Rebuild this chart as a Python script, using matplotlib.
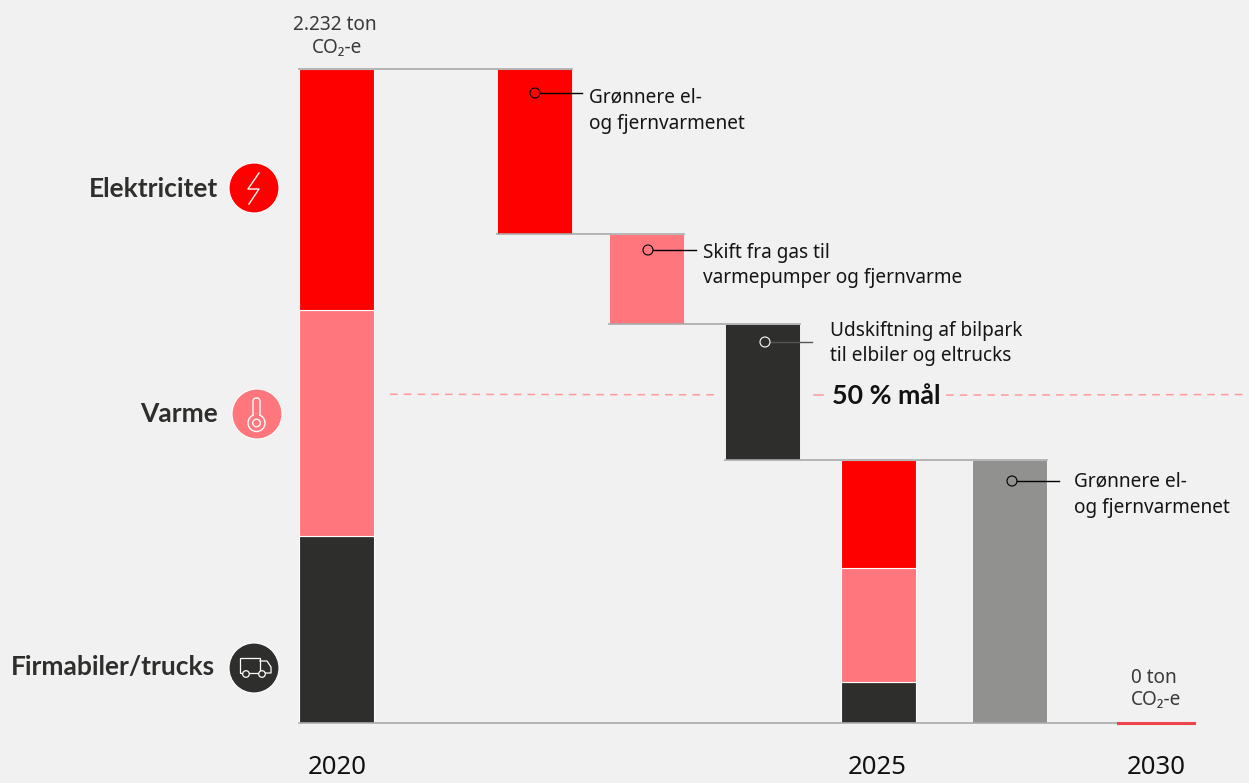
import matplotlib
matplotlib.use("Agg")
import matplotlib.pyplot as plt
from matplotlib.patches import Circle, Rectangle, FancyBboxPatch

plt.rcParams['font.family'] = ['Noto Sans', 'DejaVu Sans']
BOLD = ['Lato', 'DejaVu Sans']

RED = "#ff0000"
PINK = "#ff767c"
DARK = "#2e2e2c"
GREY = "#91918f"
BG = "#f1f1f1"
LINE = "#a9a9a9"

# tons CO2-e
total_2020 = 2232
stack_2020 = [639, 771, 822]
stack_colors = [DARK, PINK, RED]
steps = [563, 307, 464]
step_colors = [RED, PINK, DARK]
stack_2025 = [140, 390, 368]
rest_2030 = 898
goal = 1120

x_2020 = 337
x_steps = [535, 647, 763]
x_2025 = 879
x_rest = 1010
x_2030 = 1156
bar_w = 75

years = ["2020", "2025", "2030"]
year_x = [337, 877, 1156]

fig = plt.figure(figsize=(12.49, 7.83), dpi=100, facecolor=BG)

# data axes: x in pixels, y in tons
px_per_ton = 654 / total_2020
ax = fig.add_axes([0, 0, 1, 1])
ax.set_xlim(0, 1249)
ax.set_ylim(-(783 - 723) / px_per_ton, 723 / px_per_ton)
ax.axis("off")

# overlay axes in pixel coords for labels and icons
ov = fig.add_axes([0, 0, 1, 1])
ov.set_xlim(0, 1249)
ov.set_ylim(783, 0)
ov.axis("off")
ov.patch.set_alpha(0)

# connectors
level = total_2020
ax.plot([x_2020 - bar_w / 2, x_steps[0] + bar_w / 2], [level, level], color=LINE, lw=1.2, zorder=3)
lefts = [x_steps[0] - bar_w / 2, x_steps[1] - bar_w / 2, x_steps[2] - bar_w / 2]
rights = [x_steps[1] + bar_w / 2, x_steps[2] + bar_w / 2, x_rest + bar_w / 2]
for i in range(3):
    level -= steps[i]
    ax.plot([lefts[i], rights[i]], [level, level], color=LINE, lw=1.2, zorder=3)
ax.plot([x_2020 - bar_w / 2, x_2030 - bar_w / 2], [0, 0], color=LINE, lw=1.2, zorder=3)

# 2020 stack
bottom = 0
for v, c in zip(stack_2020, stack_colors):
    ax.bar(x_2020, v, bar_w, bottom=bottom, color=c, edgecolor="white", lw=0.8, zorder=2)
    bottom += v

# waterfall steps
level = total_2020
for x, v, c in zip(x_steps, steps, step_colors):
    ax.bar(x, v, bar_w, bottom=level - v, color=c, edgecolor="white", lw=0.6, zorder=2)
    level -= v

# 2025 stack
bottom = 0
for v, c in zip(stack_2025, stack_colors):
    ax.bar(x_2025, v, bar_w, bottom=bottom, color=c, edgecolor="white", lw=0.8, zorder=2)
    bottom += v

# remaining
ax.bar(x_rest, rest_2030, bar_w, color=GREY, edgecolor="white", lw=0.6, zorder=2)

# 2030
ax.plot([x_2030 - 38, x_2030 + 38], [0, 0], color="#f0444c", lw=2.2, zorder=4)

# 50 % goal
ax.plot([390, 718], [goal + 2, goal], color="#ff9a9e", lw=1.1, dashes=(5, 4), zorder=1)
ax.plot([814, 823], [goal, goal], color="#ff9a9e", lw=1.1, zorder=1)
ax.plot([946, 1245], [goal - 1, goal + 1], color="#ff9a9e", lw=1.1, dashes=(5, 4), zorder=1)
ov.text(832, 396, "50 % mål", fontsize=19.3, fontweight="bold", family=BOLD, color="#111111", va="center")

# callouts
callouts = [
    (535, 93, 582, "black", "Grønnere el-\nog fjernvarmenet", 589, 98),
    (648, 250, 696, "black", "Skift fra gas til\nvarmepumper og fjernvarme", 703, 253),
    (765, 342, 812, "#555555", "Udskiftning af bilpark\ntil elbiler og eltrucks", 830, 331),
    (1012, 481, 1059, "black", "Grønnere el-\nog fjernvarmenet", 1074, 482),
]
for cx, cy, ex, col, txt, tx, ty in callouts:
    ov.plot([cx + 5, ex], [cy, cy], color=col, lw=1.0, zorder=5)
    edge = "white" if col != "black" else "black"
    ov.add_patch(Circle((cx, cy), 5, fc="none", ec=edge, lw=0.8, zorder=6))
    lines = txt.split("\n")
    ov.text(tx, ty, lines[0], fontsize=13.7, color="#151515", va="center")
    ov.text(tx, ty + 25.5, lines[1], fontsize=13.7, color="#151515", va="center")

# totals
ov.text(335, 25.5, "2.232 ton", fontsize=13.7, color="#3a3a3a", ha="center", va="center")
ov.text(337, 47.5, "CO₂-e", fontsize=13.7, color="#3a3a3a", ha="center", va="center")
ov.text(1154, 678, "0 ton", fontsize=13.7, color="#3a3a3a", ha="center", va="center")
ov.text(1156, 700, "CO₂-e", fontsize=13.7, color="#3a3a3a", ha="center", va="center")

for x, y in zip(year_x, years):
    ov.text(x, 768, y, fontsize=18.5, color="#111111", ha="center", va="center")

# category labels
ov.text(218, 189, "Elektricitet", fontsize=19, fontweight="bold", family=BOLD, color=DARK, ha="right", va="center")
ov.text(218, 414, "Varme", fontsize=19, fontweight="bold", family=BOLD, color=DARK, ha="right", va="center")
ov.text(215, 667, "Firmabiler/trucks", fontsize=19, fontweight="bold", family=BOLD, color=DARK, ha="right", va="center")

# icons
ov.add_patch(Circle((254, 188), 25, fc=RED, ec="white", lw=0.8, zorder=4))
ov.plot([259, 248, 259, 249], [173, 189, 189, 204], color="white", lw=1, zorder=5)

ov.add_patch(Circle((257, 414), 25, fc=PINK, ec="white", lw=0.8, zorder=4))
ov.add_patch(FancyBboxPatch((253, 398), 7, 22, boxstyle="round,pad=0,rounding_size=3.5",
                            fc="none", ec="white", lw=1, zorder=5))
ov.add_patch(Circle((256.5, 423), 8.5, fc=PINK, ec="white", lw=1, zorder=6))
ov.add_patch(Rectangle((253.6, 414), 5.8, 6, fc=PINK, ec="none", zorder=7))
ov.add_patch(Circle((256.5, 423), 3.8, fc="none", ec="white", lw=1, zorder=8))

ov.add_patch(Circle((254, 668), 25, fc=DARK, ec="white", lw=0.8, zorder=4))
ov.add_patch(Rectangle((240, 658), 20, 15, fc="none", ec="white", lw=0.9, zorder=5))
ov.plot([260, 267, 271, 271, 260], [661, 661, 667, 673, 673], color="white", lw=0.9, zorder=5)
ov.add_patch(Circle((246, 674), 3.3, fc=DARK, ec="white", lw=0.9, zorder=6))
ov.add_patch(Circle((262, 674), 3.3, fc=DARK, ec="white", lw=0.9, zorder=6))

fig.savefig("out.png", dpi=100, facecolor=BG)
